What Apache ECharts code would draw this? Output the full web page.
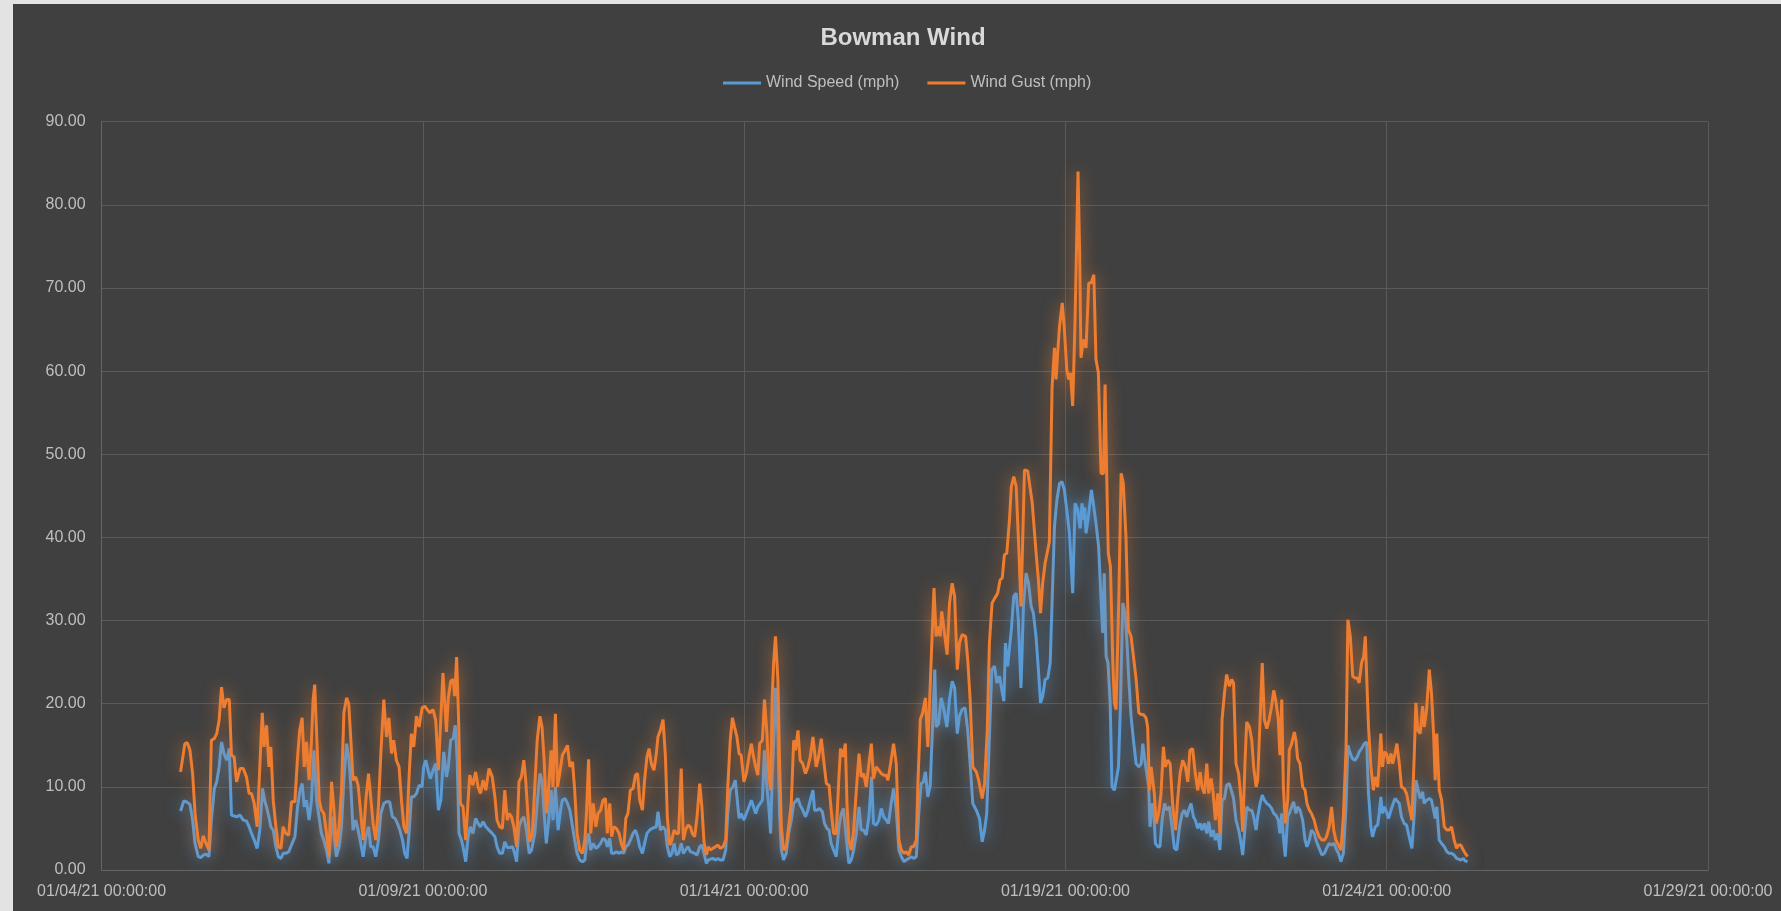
<!DOCTYPE html>
<html><head><meta charset="utf-8">
<script src="https://cdn.jsdelivr.net/npm/echarts/dist/echarts.min.js"></script>
<style>
html,body{margin:0;padding:0;width:1781px;height:911px;overflow:hidden;background:#e3e3e3;}
#chart{position:absolute;left:13px;top:4px;width:1768px;height:907px;}
</style></head><body><div id="chart"></div><script>
// Hours after 01/04/21 00:00:00
const xTickLabels = ['01/04/21 00:00:00','01/09/21 00:00:00','01/14/21 00:00:00','01/19/21 00:00:00','01/24/21 00:00:00','01/29/21 00:00:00'];
const yTickLabels = ['0.00','10.00','20.00','30.00','40.00','50.00','60.00','70.00','80.00','90.00'];
const seriesNames = ['Wind Speed (mph)','Wind Gust (mph)'];

// [hours since 01/04/21 00:00, mph]
const speedPoints = [
[29.5,7.1],[30.7,8.3],[31.8,8.2],[33.0,7.9],[34.0,6.0],[34.9,3.2],[36.1,1.6],[37.0,1.5],[38.0,1.8],[39.0,1.9],[40.1,1.6],[41.0,6.0],[42.1,9.8],[43.0,10.6],[43.9,12.4],[44.8,15.4],[45.7,14.0],[46.7,13.2],[47.7,14.6],[48.5,6.6],[49.5,6.5],[50.4,6.4],[51.7,6.6],[52.9,6.0],[54.1,5.9],[55.1,5.2],[56.0,4.4],[57.0,3.6],[58.1,2.6],[59.1,4.8],[60.1,9.8],[61.0,8.2],[61.6,7.6],[62.5,6.4],[63.2,5.2],[64.1,4.8],[65.1,2.8],[66.0,1.6],[67.0,1.4],[67.8,2.0],[68.8,2.0],[69.9,2.2],[70.9,3.0],[72.2,4.0],[73.2,7.6],[74.0,9.4],[74.9,10.4],[75.7,7.6],[76.5,8.4],[77.5,6.0],[78.4,8.4],[79.3,14.4],[80.3,8.4],[81.3,6.2],[82.1,4.4],[83.0,3.6],[84.0,2.4],[84.9,0.8],[85.9,6.4],[86.7,4.4],[87.7,1.6],[88.7,2.8],[89.6,5.2],[90.5,10.8],[91.5,15.2],[92.3,13.6],[93.1,10.0],[93.9,4.8],[94.9,6.0],[95.8,4.8],[96.8,3.2],[97.7,1.6],[98.7,4.0],[99.7,5.2],[100.5,2.8],[101.4,2.8],[102.4,1.6],[103.4,3.6],[104.3,6.8],[105.4,8.0],[106.4,8.2],[107.6,8.2],[108.6,6.4],[109.6,6.2],[110.5,5.6],[111.4,4.8],[112.4,3.6],[113.2,2.0],[114.1,1.4],[114.9,4.8],[115.7,8.8],[116.6,8.8],[117.6,9.2],[118.6,10.2],[119.7,10.0],[120.3,12.4],[121.1,13.2],[121.9,12.0],[122.8,11.0],[123.8,12.0],[124.8,12.8],[125.8,7.2],[126.7,8.4],[127.8,14.2],[128.8,11.2],[129.5,12.4],[130.4,15.6],[131.3,15.8],[132.1,17.4],[132.8,13.2],[133.5,4.4],[134.4,3.6],[135.0,2.8],[136.0,1.0],[136.9,4.0],[137.7,5.2],[138.7,4.4],[139.7,6.2],[140.6,5.6],[141.5,5.2],[142.5,5.8],[143.5,5.2],[144.7,4.8],[145.9,4.4],
[146.9,4.0],[147.7,2.8],[148.7,2.0],[149.7,2.0],[150.6,3.4],[151.5,2.7],[152.5,2.7],[153.5,2.8],[154.3,2.0],[155.0,1.0],[155.9,5.2],[156.8,6.0],[157.7,6.4],[158.7,4.8],[159.7,2.0],[160.6,2.4],[161.8,4.4],[162.7,8.0],[163.7,11.6],[164.5,10.8],[165.3,6.8],[166.1,3.2],[167.0,6.0],[167.9,9.6],[168.6,6.0],[169.5,10.0],[170.5,4.8],[171.4,7.2],[172.1,8.4],[173.1,8.6],[174.0,8.0],[174.9,7.2],[175.9,5.2],[176.7,3.6],[177.6,2.0],[178.6,1.2],[179.6,1.0],[180.5,1.2],[181.1,3.2],[181.9,4.4],[182.7,2.4],[183.6,3.2],[184.6,2.6],[185.4,2.8],[186.4,3.2],[187.3,3.8],[188.2,3.6],[188.9,2.8],[189.8,3.8],[190.5,2.0],[191.3,2.0],[192.3,2.2],[193.3,2.0],[194.1,2.2],[195.0,2.0],[195.8,2.8],[196.6,3.0],[197.5,3.6],[198.5,4.4],[199.4,4.8],[200.2,4.0],[201.0,2.8],[202.0,2.0],[202.8,3.2],[203.7,4.4],[204.7,4.8],[205.6,5.0],[206.3,4.8],[207.2,5.2],[207.8,7.0],[208.7,4.8],[209.7,5.2],[210.6,4.8],[211.3,2.8],[212.2,1.6],[213.0,2.0],[213.8,3.2],[214.7,1.8],[215.5,2.0],[216.5,3.2],[217.3,2.0],[218.1,2.4],[219.0,2.8],[219.9,2.2],[220.6,2.0],[221.5,2.0],[222.4,1.8],[223.4,2.8],[224.2,3.0],[225.0,2.0],[225.9,0.8],[226.6,1.2],[227.4,1.3],[228.3,1.4],[229.3,1.2],[230.2,1.4],[231.1,1.2],[232.1,1.2],[233.1,2.4],[233.9,6.8],[234.8,9.6],[235.8,10.0],[236.7,10.8],[237.3,8.8],[238.1,6.2],[238.9,6.8],[239.9,6.0],[240.8,6.8],[241.8,7.6],[242.7,8.4],[243.5,7.6],[244.3,6.8],[245.1,7.6],[246.0,8.0],[246.8,8.4],[247.6,14.4],[248.5,10.0],[249.2,7.6],[249.9,4.4],[250.5,11.6],[251.1,15.6],[251.7,21.9],[252.6,16.4],[253.2,6.8],[253.9,2.4],[254.7,1.2],[255.7,2.0],[256.6,4.4],[257.6,6.0],[258.5,8.0],[259.2,8.0],[260.1,8.6],[260.9,7.8],[261.9,7.2],[262.9,6.4],[263.8,7.2],[264.7,8.4],[265.7,9.6],
[266.3,7.2],[267.2,7.2],[268.2,7.4],[269.2,7.0],[270.0,5.6],[270.9,5.0],[271.7,4.8],[272.5,3.2],[273.4,2.4],[274.4,1.6],[275.4,5.2],[276.3,6.8],[277.1,7.4],[278.1,4.0],[279.1,0.8],[280.0,1.2],[280.9,2.4],[281.9,4.4],[282.9,7.6],[283.7,4.8],[284.6,4.8],[285.6,4.2],[286.6,6.4],[287.6,11.2],[288.3,5.6],[289.3,5.4],[290.3,6.0],[291.2,7.4],[292.1,6.4],[293.1,6.0],[293.9,5.6],[294.9,8.0],[295.8,9.8],[296.8,7.2],[297.8,2.4],[298.7,1.6],[299.7,1.0],[300.5,1.2],[301.5,1.4],[302.4,1.6],[303.3,1.4],[304.3,1.6],[305.3,7.2],[306.1,10.4],[307.0,10.6],[307.7,11.8],[308.6,8.8],[309.5,10.2],[310.2,16.0],[311.2,24.1],[311.7,17.2],[312.6,17.6],[313.6,20.7],[314.6,19.3],[315.7,17.2],[316.7,20.5],[317.7,22.7],[318.6,21.9],[319.6,16.4],[320.4,18.5],[321.4,19.3],[322.5,19.5],[323.5,16.8],[324.4,12.8],[325.4,8.0],[326.7,7.2],[327.9,6.2],[328.9,3.4],[329.8,4.8],[330.6,6.8],[331.6,16.0],[332.5,24.1],[333.5,24.5],[334.4,22.5],[335.4,23.3],[336.2,21.7],[337.0,20.3],[337.6,27.3],[338.4,24.5],[339.1,24.3],[339.8,28.9],[340.7,32.9],[341.6,33.3],[342.4,30.1],[343.4,21.9],[344.3,31.7],[345.3,35.7],[346.2,34.5],[347.2,31.7],[348.0,30.9],[349.0,28.1],[349.9,24.1],[350.7,20.1],[351.5,20.9],[352.4,22.9],[353.4,23.1],[354.3,24.9],[355.0,32.1],[355.9,41.3],[356.8,44.5],[357.8,46.5],[358.7,46.7],[359.6,45.7],[360.5,43.3],[361.5,40.5],[362.7,33.3],[363.6,44.1],[364.6,43.3],[365.5,41.1],[366.2,44.1],[366.7,42.1],[367.2,43.6],[367.7,40.5],[368.7,42.9],[369.7,45.7],[370.4,44.1],[371.4,41.7],[372.4,38.9],[373.3,32.5],[373.9,28.5],[374.5,35.7],[375.2,25.7],[375.9,24.9],[376.7,20.1],[377.4,10.0],[378.3,9.6],[378.9,9.6],[379.8,12.4],[380.5,19.3],[381.4,32.1],[382.3,30.9],[383.0,27.3],[383.6,23.3],
[384.5,18.5],[385.4,15.6],[386.4,12.8],[387.4,12.4],[388.3,12.8],[388.9,15.2],[389.5,13.6],[390.4,11.6],[391.1,10.0],[391.6,5.2],[392.4,8.0],[392.9,7.6],[393.6,3.2],[394.5,2.8],[395.3,2.8],[396.1,6.0],[397.0,8.0],[397.8,7.2],[398.8,7.6],[399.8,5.2],[400.7,2.6],[401.6,2.4],[402.6,5.2],[403.6,6.8],[404.4,7.2],[405.3,6.4],[406.0,7.2],[406.9,8.0],[407.8,6.4],[408.5,6.0],[409.4,5.0],[410.3,5.6],[411.0,4.8],[411.9,5.6],[412.8,4.4],[413.5,5.8],[414.4,4.0],[415.2,4.8],[416.0,3.6],[416.9,4.4],[417.7,2.4],[418.5,8.4],[419.4,8.6],[420.2,10.2],[421.2,10.4],[422.1,9.4],[422.8,8.6],[423.7,6.0],[424.7,4.8],[425.6,3.2],[426.2,1.8],[427.1,5.2],[427.7,7.6],[428.7,7.2],[429.6,7.2],[430.3,6.4],[431.2,4.8],[431.8,6.4],[432.7,8.0],[433.5,9.0],[434.3,8.4],[435.2,8.0],[436.1,7.8],[437.0,7.4],[437.8,6.8],[438.6,6.6],[439.5,6.0],[440.1,4.4],[440.8,6.8],[441.4,4.0],[442.1,1.6],[443.0,6.4],[443.6,6.8],[444.5,7.6],[445.2,8.2],[446.1,6.8],[446.7,7.6],[447.6,7.2],[448.6,6.0],[449.5,3.6],[450.2,2.8],[451.1,3.6],[451.9,4.8],[452.9,4.4],[453.8,3.4],[454.8,2.6],[455.8,1.8],[456.7,2.0],[457.5,2.6],[458.5,3.2],[459.4,3.0],[460.4,3.2],[461.3,2.4],[462.0,2.0],[462.9,1.0],[463.8,2.0],[464.8,7.6],[465.5,15.0],[466.4,14.0],[467.2,13.4],[468.1,13.2],[469.0,13.6],[469.7,14.2],[470.6,14.6],[471.6,15.2],[472.5,15.4],[473.2,9.2],[474.1,5.2],[474.7,4.0],[475.7,5.2],[476.6,5.4],[477.2,6.8],[477.8,8.8],[478.4,6.8],[479.1,7.6],[479.9,7.0],[480.7,6.2],[481.6,7.2],[482.2,7.8],[483.1,8.6],[483.8,8.8],[484.7,8.0],[485.5,6.4],[486.5,5.6],[487.4,5.4],[488.4,4.0],[489.4,2.6],[490.3,6.8],[490.9,10.8],[491.6,9.8],[492.5,8.6],[493.4,9.4],[494.0,8.0],[494.9,8.4],[495.9,8.6],[496.7,8.4],[497.5,7.2],[498.1,6.2],[498.7,7.6],[499.6,3.6],[500.5,3.2],[501.5,2.8],[502.5,2.2],[503.3,2.0],[504.2,2.0],[505.2,1.8],[506.1,1.4],[506.8,1.6],[507.7,1.2],[508.6,1.4],[509.3,1.1],[510.2,1.0]
];

const gustPoints = [
[29.5,11.8],[31.1,15.2],[32.0,15.3],[33.0,14.4],[34.0,11.6],[34.9,6.8],[36.1,3.6],[37.0,2.6],[38.0,4.1],[39.0,3.2],[40.1,2.4],[41.0,15.6],[42.1,15.8],[43.0,16.4],[43.9,18.0],[44.8,22.0],[45.7,19.5],[46.7,20.5],[47.7,20.5],[48.5,13.8],[49.5,13.6],[50.4,10.6],[51.7,12.2],[52.9,12.2],[54.1,11.2],[55.1,9.2],[56.0,9.2],[57.0,8.0],[58.1,5.2],[59.1,12.4],[60.0,18.9],[60.7,14.8],[61.6,17.4],[62.5,12.4],[63.2,14.8],[64.1,8.4],[65.1,5.2],[66.0,2.8],[67.0,2.6],[67.8,5.2],[68.8,4.4],[69.9,4.2],[70.9,8.2],[72.2,8.2],[73.2,13.6],[74.0,16.8],[74.9,18.3],[75.7,12.4],[76.5,15.4],[77.5,10.8],[78.4,15.6],[79.0,20.5],[79.6,22.3],[80.3,16.4],[81.3,8.4],[82.1,7.2],[83.0,6.8],[84.0,4.4],[84.9,1.6],[85.9,10.6],[86.7,7.6],[87.7,2.8],[88.7,5.2],[89.6,9.6],[90.5,18.9],[91.5,20.7],[92.3,20.0],[93.1,15.6],[93.9,10.8],[94.9,11.2],[95.8,10.2],[96.8,6.8],[97.7,3.6],[98.7,8.4],[99.7,11.6],[100.5,8.8],[101.4,5.6],[102.4,3.6],[103.4,7.6],[104.3,14.0],[105.4,20.5],[106.4,16.0],[107.3,18.3],[108.3,14.0],[109.1,15.6],[110.1,13.2],[111.1,12.4],[112.0,8.4],[112.9,5.2],[113.9,4.4],[114.9,11.6],[115.7,16.4],[116.6,14.8],[117.6,18.5],[118.6,17.2],[119.7,19.5],[120.7,19.7],[121.6,19.3],[122.6,18.9],[123.8,19.3],[124.8,18.0],[125.8,12.0],[127.5,23.7],[128.8,16.6],[129.5,20.7],[130.4,22.7],[131.3,22.9],[131.9,20.9],[132.6,25.6],[133.3,18.5],[134.0,8.0],[135.0,7.6],[136.0,3.6],[136.9,8.4],[137.5,11.4],[138.7,10.2],[139.7,11.8],[140.6,10.0],[141.5,9.2],[142.5,10.8],[143.5,9.6],[144.7,12.2],[145.9,11.2],
[146.9,8.8],[147.7,6.0],[148.7,5.2],[149.7,5.0],[150.6,9.6],[151.5,6.0],[152.2,6.8],[153.1,6.4],[154.0,5.2],[155.0,2.8],[155.9,10.6],[156.8,11.2],[157.7,13.2],[158.4,10.8],[159.2,6.8],[159.9,3.4],[160.9,4.4],[161.8,10.0],[162.7,15.6],[163.7,18.5],[164.5,17.2],[165.3,13.2],[166.1,6.8],[167.0,10.0],[167.9,14.4],[168.6,10.0],[169.5,18.8],[170.3,10.0],[171.1,11.6],[172.1,13.8],[173.1,14.4],[174.0,15.0],[174.9,12.4],[175.9,13.0],[176.7,9.6],[177.6,4.4],[178.6,2.4],[179.6,2.0],[180.5,3.6],[181.1,6.8],[181.9,13.3],[182.7,4.4],[183.6,8.0],[184.6,5.2],[185.4,6.8],[186.4,7.2],[187.3,8.4],[188.2,8.6],[188.9,4.4],[189.8,8.0],[190.5,4.0],[191.3,5.2],[192.3,5.0],[193.3,4.4],[194.1,3.2],[195.0,2.4],[195.8,6.2],[196.6,6.8],[197.5,9.6],[198.5,9.8],[199.4,11.4],[200.2,11.6],[201.0,8.4],[202.0,7.2],[202.8,10.8],[203.7,13.6],[204.5,14.6],[205.3,12.8],[206.3,12.0],[207.2,14.0],[207.8,16.0],[208.7,16.8],[209.7,18.1],[210.6,13.6],[211.3,6.4],[212.2,3.0],[213.0,3.6],[213.8,4.8],[214.7,4.4],[215.5,4.4],[216.5,12.2],[217.3,3.6],[218.1,4.8],[219.0,5.4],[219.9,5.2],[220.6,4.4],[221.5,4.0],[222.4,6.4],[223.4,10.4],[224.2,7.6],[225.0,3.4],[225.9,1.8],[226.6,2.8],[227.4,2.4],[228.3,2.6],[229.3,2.8],[230.2,3.0],[231.1,2.6],[232.1,2.8],[233.1,3.6],[233.9,10.0],[234.8,15.6],[235.6,18.3],[236.4,17.2],[237.3,16.0],[238.1,14.0],[238.9,13.8],[239.9,10.6],[240.8,11.6],[241.8,13.6],[242.7,15.2],[243.5,13.6],[244.3,12.4],[245.1,11.4],[245.8,15.2],[246.8,15.6],[247.6,20.5],[248.5,16.4],[249.2,11.6],[249.9,9.6],[250.5,20.9],[251.0,24.9],[251.7,28.1],[252.6,22.9],[253.2,13.2],[253.9,5.2],[254.7,2.4],[255.7,2.8],[256.6,5.2],[257.6,8.0],[258.5,15.6],[259.2,14.4],[260.1,16.8],[260.9,13.2],[261.9,12.8],[262.9,11.6],[263.8,12.4],[264.7,13.6],[265.7,16.0],
[266.9,12.4],[267.8,13.6],[268.8,15.8],[269.7,13.2],[270.7,10.4],[271.7,10.2],[272.5,7.2],[273.4,4.4],[274.4,4.4],[275.4,11.2],[276.0,14.6],[276.9,13.6],[277.8,15.2],[278.4,8.0],[279.1,3.6],[280.0,2.4],[280.9,4.8],[281.9,9.6],[282.9,14.0],[283.7,11.2],[284.6,11.6],[285.6,10.0],[286.6,12.8],[287.5,15.2],[288.3,11.0],[289.3,12.4],[290.3,12.0],[291.2,11.6],[292.1,11.4],[293.1,11.4],[293.7,10.8],[294.7,12.8],[295.8,15.2],[296.8,12.8],[297.8,3.6],[298.7,2.4],[299.7,2.0],[300.5,2.2],[301.5,1.8],[302.4,2.8],[303.3,2.8],[304.3,3.6],[304.9,10.4],[305.8,18.1],[306.7,18.9],[307.7,20.7],[308.6,14.8],[309.2,19.7],[310.1,27.3],[310.9,33.9],[311.7,28.1],[312.6,29.3],[313.2,28.1],[313.8,31.1],[314.8,28.5],[315.8,25.9],[316.7,32.1],[317.7,34.5],[318.6,32.9],[319.6,24.1],[320.4,27.3],[321.4,28.3],[322.7,28.1],[323.5,25.3],[324.4,20.5],[325.4,12.4],[326.7,11.8],[327.6,10.8],[328.9,8.6],[329.8,10.4],[330.8,16.8],[331.6,27.3],[332.6,32.1],[333.6,32.7],[334.7,33.3],[335.6,34.9],[336.4,35.1],[337.2,37.9],[338.1,38.1],[339.1,42.1],[339.8,46.1],[340.7,47.3],[341.6,46.1],[342.4,40.1],[343.4,31.7],
[344.7,48.1],[345.9,48.0],[347.6,44.1],[349.0,38.3],[349.9,34.9],[350.7,30.9],[351.5,34.5],[352.4,36.9],[353.4,38.5],[354.0,39.5],[355.0,58.0],[355.9,62.8],[356.5,59.0],[357.1,62.2],[357.8,65.4],[358.8,68.2],[359.6,65.0],[360.5,60.2],[361.2,59.0],[361.9,59.8],[362.7,55.8],[363.6,66.2],[364.7,84.0],[365.3,74.2],[365.8,61.6],[366.7,63.8],[367.7,62.8],[368.7,70.6],[369.6,70.6],[370.6,71.6],[371.4,61.4],[372.3,59.8],[373.3,47.7],[374.2,47.7],[374.8,58.4],[375.4,47.7],[376.0,38.1],[376.8,36.5],[377.7,24.9],[378.3,20.1],[378.9,19.3],[379.9,32.1],[380.8,47.7],[381.6,46.5],[382.6,40.1],[383.5,28.9],
[384.5,28.1],[385.4,25.7],[386.4,22.9],[387.4,18.9],[388.3,18.7],[389.1,18.7],[390.1,18.3],[390.7,17.2],[391.4,9.6],[392.0,12.4],[392.6,12.6],[393.2,9.2],[393.9,5.6],[394.8,6.8],[395.7,9.2],[396.6,14.8],[397.3,12.4],[398.2,13.2],[399.1,12.8],[400.1,7.6],[401.1,4.8],[401.9,8.4],[402.8,11.6],[403.8,13.2],[404.8,12.4],[405.7,10.6],[406.5,14.4],[407.5,14.6],[408.5,11.6],[409.4,9.6],[410.3,11.8],[411.0,10.0],[411.9,9.2],[412.8,12.8],[413.5,9.2],[414.4,11.0],[415.2,9.2],[416.0,6.0],[416.9,9.2],[417.7,4.4],[418.5,18.1],[419.4,21.3],[420.2,23.5],[421.2,22.1],[422.1,22.9],[422.8,22.5],[423.7,12.8],[424.7,11.6],[425.6,8.4],[426.2,4.6],[427.1,13.2],[427.7,17.8],[428.7,17.2],[429.6,15.6],[430.3,12.4],[431.2,10.0],[431.8,10.8],[432.7,18.1],[433.5,24.9],[434.3,18.1],[435.2,17.0],[436.1,18.1],[437.0,19.7],[437.8,21.6],[438.6,20.3],[439.5,18.1],[440.1,13.8],[440.8,20.5],[441.4,10.0],[442.1,5.6],[443.0,8.4],[443.6,14.4],[444.5,15.2],[445.5,16.6],[446.1,15.6],[446.7,13.4],[447.6,12.8],[448.6,10.0],[449.5,9.6],[450.2,8.0],[451.1,7.2],[451.9,6.8],[452.9,6.0],[453.8,4.8],[454.8,4.0],[455.8,3.6],[456.7,3.6],[457.5,4.0],[458.5,5.2],[459.4,7.6],[460.2,4.8],[461.0,3.6],[462.0,3.0],[462.9,2.4],[463.8,6.4],[464.8,14.4],[465.5,30.1],[466.4,28.1],[467.3,23.3],[468.1,23.1],[469.0,23.1],[469.7,22.5],[470.6,24.9],[471.4,25.7],[472.0,28.1],[472.6,22.5],[473.2,17.2],[474.1,12.4],[475.0,9.6],[475.7,11.2],[476.6,10.0],[477.2,12.8],[477.8,16.4],[478.4,12.4],[479.1,14.2],[479.9,14.0],[480.7,12.8],[481.6,14.0],[482.2,12.8],[483.1,14.0],[483.8,15.2],[484.7,12.8],[485.5,10.0],[486.5,9.8],[487.4,9.2],[488.4,7.6],[489.4,6.0],[490.3,14.0],[490.9,20.1],[491.6,16.8],[492.5,16.4],[493.4,19.7],[494.0,17.2],[494.9,19.3],[495.9,24.1],[496.7,21.3],[497.5,16.4],[498.1,10.8],[498.7,16.4],[499.6,9.6],[500.5,8.4],[501.5,5.2],[502.5,4.8],[503.3,4.8],[504.2,5.2],[505.2,3.6],[506.1,2.6],[506.8,3.0],[507.7,3.0],[508.6,2.4],[509.3,2.0],[510.2,1.6]
];

const chart = echarts.init(document.getElementById('chart'));
const FONT = 'Liberation Sans';
chart.setOption({
  backgroundColor: '#404040',
  animation: false,
  textStyle: { fontFamily: FONT },
  title: {
    text: 'Bowman Wind', left: 890, top: 22, textAlign: 'center', padding: 0,
    textStyle: { color: '#d9d9d9', fontSize: 24, fontWeight: 'bold', fontFamily: FONT }
  },
  legend: {
    data: seriesNames, left: 710, top: 71, padding: 0,
    icon: 'rect', itemWidth: 38, itemHeight: 3, itemGap: 28,
    textStyle: { color: '#bfbfbf', fontSize: 16, fontFamily: FONT }
  },
  grid: { left: 88.6, right: 73, top: 117.7, bottom: 41, containLabel: false },
  xAxis: {
    type: 'value', min: 0, max: 600, interval: 120,
    axisLine: { show: true, lineStyle: { color: '#666666', width: 1 } },
    axisTick: { show: false },
    splitLine: { show: true, lineStyle: { color: '#5a5a5a', width: 1 } },
    axisLabel: { color: '#bfbfbf', fontSize: 16, fontFamily: FONT, margin: 14,
      showMinLabel: true, showMaxLabel: true,
      formatter: v => xTickLabels[Math.round(v / 120)] }
  },
  yAxis: {
    type: 'value', min: 0, max: 90, interval: 10,
    axisLine: { show: true, lineStyle: { color: '#666666', width: 1 } },
    axisTick: { show: false },
    splitLine: { show: true, lineStyle: { color: '#5a5a5a', width: 1 } },
    axisLabel: { color: '#bfbfbf', fontSize: 16, fontFamily: FONT, margin: 16,
      formatter: v => yTickLabels[Math.round(v / 10)] }
  },
  series: [
    { name: seriesNames[0], type: 'line', data: speedPoints, showSymbol: false, symbol: 'none',
      itemStyle: { color: '#5B9BD5' },
      lineStyle: { color: '#5B9BD5', width: 3, shadowColor: 'rgba(91,155,213,0.8)', shadowBlur: 16 }, z: 2 },
    { name: seriesNames[1], type: 'line', data: gustPoints, showSymbol: false, symbol: 'none',
      itemStyle: { color: '#ED7D31' },
      lineStyle: { color: '#ED7D31', width: 3, shadowColor: 'rgba(237,125,49,0.7)', shadowBlur: 16 }, z: 3 }
  ]
});
</script></body></html>
